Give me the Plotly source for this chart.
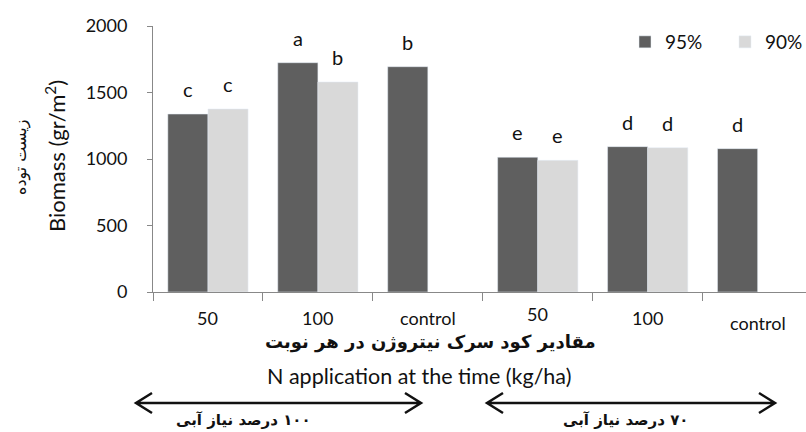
import plotly.graph_objects as go

# ---- data ----
categories = ["50", "100", "control", "50", "100", "control"]
series_names = ["95%", "90%"]
vals_95 = [1338, 1724, 1694, 1013, 1093, 1078]
vals_90 = [1376, 1579, None, 990, 1085, None]
letters_95 = ["c", "a", "b", "e", "d", "d"]
letters_90 = ["c", "b", None, "e", "d", None]
y_ticks = [0, 500, 1000, 1500, 2000]

DARK = "#5f5f5f"
LIGHT = "#d9d9d9"
FONT = "Lato, 'Open Sans', sans-serif"
FA = "'DejaVu Sans', sans-serif"
RLE, PDF = "\u202b", "\u202c"

W, H = 806, 432
L, R, T, B = 153, 806, 26, 292  # plot area pixels


def px(x):
    return (x - L) / (R - L)


def py(y):
    return (B - y) / (B - T)


xs = list(range(len(categories)))
fig = go.Figure()
fig.add_bar(x=xs, y=vals_95, name=series_names[0], marker_color=DARK)
fig.add_bar(x=xs, y=vals_90, name=series_names[1], marker_color=LIGHT)

annotations = []
off = 0.182
for i, (v, t) in enumerate(zip(vals_95, letters_95)):
    if t:
        annotations.append(dict(x=i - off, y=v, xref="x", yref="y", text=t, showarrow=False,
                                xanchor="center", yanchor="middle", yshift=25,
                                font=dict(family=FONT, size=20, color="#111")))
for i, (v, t) in enumerate(zip(vals_90, letters_90)):
    if t and v is not None:
        annotations.append(dict(x=i + off, y=v, xref="x", yref="y", text=t, showarrow=False,
                                xanchor="center", yanchor="middle", yshift=25,
                                font=dict(family=FONT, size=20, color="#111")))

# category labels (slightly staggered as in the original)
label_y = [318, 318, 318, 314, 318, 323]
for i, c in enumerate(categories):
    annotations.append(dict(x=i, y=py(label_y[i]), xref="x", yref="paper", text=c, showarrow=False,
                            xanchor="center", yanchor="middle",
                            font=dict(family=FONT, size=18, color="#111")))


def txt(x, y, text, font, angle=0):
    return dict(x=px(x), y=py(y), xref="paper", yref="paper", text=text, textangle=angle,
                showarrow=False, xanchor="center", yanchor="middle", font=font)


annotations += [
    txt(55, 156, "Biomass (gr/m<sup>2</sup>)", dict(family=FONT, size=22, color="#111"), -90),
    txt(21, 158, RLE + "زیست توده" + PDF, dict(family=FA, size=16, color="#111"), -90),
    txt(430, 342, RLE + "مقادیر کود سرک نیتروژن در هر نوبت" + PDF,
        dict(family=FA, size=18, color="#111", weight="bold")),
    txt(419, 376, "N application at the time (kg/ha)", dict(family=FONT, size=21.5, color="#111")),
    txt(243, 420, RLE + "۱۰۰ درصد نیاز آبی" + PDF, dict(family=FA, size=15, color="#111", weight="bold")),
    txt(625, 420, RLE + "۷۰ درصد نیاز آبی" + PDF, dict(family=FA, size=15, color="#111", weight="bold")),
]

# double arrows
shapes = []
for (x0, x1) in [(136, 421), (487, 775)]:
    yy = 403
    path = (f"M{px(x0 + 16)},{py(yy - 10)} L{px(x0)},{py(yy)} L{px(x0 + 16)},{py(yy + 10)} "
            f"M{px(x0)},{py(yy)} L{px(x1)},{py(yy)} "
            f"M{px(x1 - 16)},{py(yy - 10)} L{px(x1)},{py(yy)} L{px(x1 - 16)},{py(yy + 10)}")
    shapes.append(dict(type="path", xref="paper", yref="paper", path=path,
                       line=dict(color="#111", width=2.5)))

fig.update_layout(
    width=W, height=H,
    margin=dict(l=L, r=W - R, t=T, b=H - B, autoexpand=False),
    plot_bgcolor="white", paper_bgcolor="white",
    barmode="group", bargap=0.27, bargroupgap=0,
    font=dict(family=FONT, size=19, color="#111"),
    showlegend=True,
    legend=dict(orientation="h", x=px(625), xanchor="left", y=py(42), yanchor="middle",
                font=dict(family=FONT, size=19, color="#111"), bgcolor="rgba(0,0,0,0)",
                entrywidth=55, entrywidthmode="pixels", itemwidth=30),
    annotations=annotations,
    shapes=shapes,
)
fig.update_xaxes(range=[-0.5, 5.44], tickvals=[-0.5, 0.5, 1.5, 2.5, 3.5, 4.5, 5.5],
                 showticklabels=False, ticks="outside", ticklen=8, tickcolor="#888",
                 showline=True, linecolor="#888", linewidth=1, showgrid=False, zeroline=False)
fig.update_yaxes(range=[0, 2000], tickvals=y_ticks, ticks="outside", ticklen=5, tickcolor="#888",
                 showline=True, linecolor="#888", linewidth=1, showgrid=False, zeroline=False,
                 ticklabelstandoff=16, tickfont=dict(family=FONT, size=18, color="#111"))

fig.write_html("out.html")
